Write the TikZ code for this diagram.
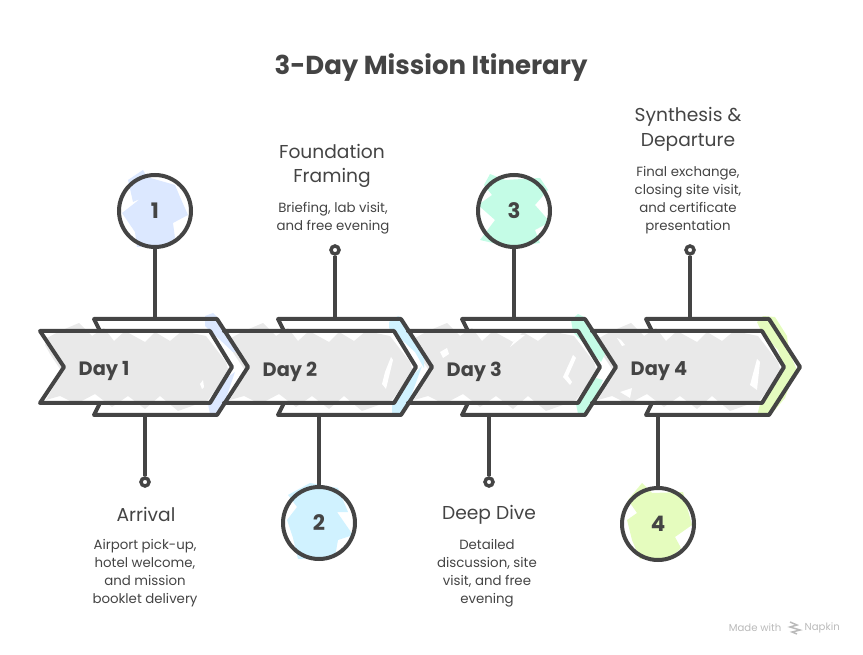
\documentclass[tikz,border=0pt]{standalone}
\usepackage{fontspec}
\setmainfont{Poppins}
\definecolor{ink}{HTML}{444444}
\definecolor{wash}{HTML}{E9E9E9}
\definecolor{dayblue}{HTML}{DCE8FF}
\definecolor{daysky}{HTML}{D0F2FF}
\definecolor{daymint}{HTML}{C4FCE6}
\definecolor{daylime}{HTML}{E5FCBE}
\tikzset{
  sketch/.style={draw=ink,line width=3pt,line join=round,line cap=round},
  stem/.style={draw=ink,line width=2.6pt},
  numdot/.style={circle,draw=ink,line width=3pt,minimum size=72*.75pt,inner sep=0pt,text=ink,font=\fontsize{16}{16}\selectfont\bfseries},
  pindot/.style={circle,draw=ink,fill=white,line width=2.6pt,minimum size=6pt,inner sep=0pt},
  headtext/.style={align=center,text=ink,font=\fontsize{14}{18.4}\selectfont},
  desctext/.style={align=center,text=ink,font=\fontsize{10}{13.5}\selectfont},
  daytext/.style={anchor=west,text=ink,font=\fontsize{14.5}{14.5}\selectfont\bfseries},
  washfill/.pic={
    \fill[wash] (47,338)--(60,331)--(79,323)--(92,336)--(104,328)--(114,341)--(125,331)--(145,342)--(155,332)--(170,341)--(182,331)--(206,336)--(226,362)--(229,372)--(208,400)--(192,406)--(178,411)--(160,396)--(145,409)--(128,396)--(112,407)--(95,394)--(76,404)--(60,396)--(46,400)--(62,372)--(50,354)--(45,345)--cycle;
  },
}
\begin{document}
\begin{tikzpicture}[x=.75pt,y=-.75pt]
\useasboundingbox (0,0) rectangle (863,655);
% title
\node[text=ink,font=\fontsize{19.5}{19.5}\selectfont\bfseries] (title) at (431,68) {3-Day Mission Itinerary};
% grey washes
\pic at (0,0) {washfill};
\pic at (184,0) {washfill};
\pic at (368,0) {washfill};
\pic at (552,0) {washfill};
\fill[white] (200,384)--(203,380)--(204,387)--(202,389)--cycle;
\fill[white] (391,357)--(385,372)--(382,384)--(386,389)--(393,360)--cycle;
\fill[white] (573,355)--(563,377)--(570,385)--(572,382)--(568,376)--(576,358)--cycle;
\fill[white] (440,352)--(447,348)--(449,354)--(443,358)--cycle;
\fill[white] (510,347)--(518,335)--(525,335)--cycle;
\fill[white] (617,338)--(621,340)--(625,345)--(622,346)--cycle;
\fill[white] (757,359)--(750,385)--(757,390)--(760,362)--cycle;
\fill[white] (620,392)--(632,388)--(630,398)--cycle;
% colour bands
\fill[dayblue] (205,316)--(213,313)--(218,318)--(240,352)--(233,352)--(205,326)--cycle;
\fill[dayblue] (208,404)--(226,378)--(235,372)--(222,410)--(217,416)--(210,414)--cycle;
\fill[daysky] (389,322)--(398,316)--(402,318)--(424,352)--(424,368)--(415,352)--(389,328)--cycle;
\fill[daysky] (392,404)--(412,376)--(422,366)--(406,410)--(401,416)--(392,417)--cycle;
\fill[daymint] (571,320)--(578,314)--(586,318)--(606,352)--(601,362)--(573,332)--cycle;
\fill[daymint] (576,404)--(596,378)--(603,380)--(590,410)--(585,416)--(578,414)--cycle;
\fill[daylime] (757,322)--(763,316)--(775,317)--(787,336)--(789,352)--(797,370)--(790,384)--(785,398)--(769,417)--(757,416)--(760,404)--(784,368)--(778,350)--(762,333)--cycle;
% back outlines
\draw[sketch] (100,331)--(94,319)--(217,319)--(248,367)--(217,415)--(94,415)--(100,403);
\draw[sketch] (284,331)--(278,319)--(401,319)--(432,367)--(401,415)--(278,415)--(284,403);
\draw[sketch] (468,331)--(462,319)--(585,319)--(616,367)--(585,415)--(462,415)--(468,403);
\draw[sketch] (652,331)--(646,319)--(769,319)--(800,367)--(769,415)--(646,415)--(652,403);
% front outlines
\draw[sketch] (40,331)--(210,331)--(232,367)--(210,403)--(40,403)--(64,367)--cycle;
\draw[sketch] (224,331)--(394,331)--(416,367)--(394,403)--(224,403);
\draw[sketch] (408,331)--(578,331)--(600,367)--(578,403)--(408,403);
\draw[sketch] (592,331)--(762,331)--(784,367)--(762,403)--(592,403);
\node[daytext] (dayone) at (74,371.5) {Day 1};
\node[daytext] (daytwo) at (258,371.5) {Day 2};
\node[daytext] (daythree) at (442,371.5) {Day 3};
\node[daytext] (dayfour) at (626,371.5) {Day 4};
% numbered circles
\fill[dayblue] (128,180)--(143,170)--(147,177)--(175,185)--(180,197)--(188,215)--(173,223)--(175,238)--(167,245)--(137,247)--(135,232)--(122,213)--(140,199)--(133,202)--cycle;
\fill[daysky] (288,495)--(310,483)--(338,488)--(348,512)--(337,512)--(353,535)--(338,540)--(335,557)--(298,559)--(293,538)--(287,520)--(297,507)--cycle;
\fill[daymint] (484,185)--(490,174)--(505,180)--(540,178)--(548,190)--(535,205)--(550,222)--(535,230)--(540,243)--(510,247)--(480,240)--(495,220)--(478,205)--(492,195)--cycle;
\fill[daylime] (628,500)--(642,483)--(652,493)--(683,492)--(692,525)--(675,537)--(681,548)--(670,558)--(640,559)--(632,540)--(627,520)--(637,513)--cycle;
\node[numdot] (one) at (155,211) {1};
\node[numdot] (two) at (319,523) {2};
\node[numdot] (three) at (514,211) {3};
\node[numdot] (four) at (658,524) {4};
\coordinate (oneroot) at (155,319);
\coordinate (tworoot) at (319,415);
\coordinate (threeroot) at (514,319);
\coordinate (fourroot) at (658,415);
\draw[stem] (one)--(oneroot);
\draw[stem] (two)--(tworoot);
\draw[stem] (three)--(threeroot);
\draw[stem] (four)--(fourroot);
% pins
\node[pindot] (pinone) at (145,482) {};
\node[pindot] (pintwo) at (335,250) {};
\node[pindot] (pinthree) at (489,482) {};
\node[pindot] (pinfour) at (690,250) {};
\coordinate (pinoneroot) at (145,415);
\coordinate (pintworoot) at (335,319);
\coordinate (pinthreeroot) at (489,415);
\coordinate (pinfourroot) at (690,319);
\draw[stem] (pinone)--(pinoneroot);
\draw[stem] (pintwo)--(pintworoot);
\draw[stem] (pinthree)--(pinthreeroot);
\draw[stem] (pinfour)--(pinfourroot);
% labels
\node[headtext] (headone) at (146,514) {Arrival};
\node[desctext] (descone) at (145,573) {Airport pick-up,\\hotel welcome,\\and mission\\booklet delivery};
\node[headtext] (headtwo) at (332,166) {Foundation\\Framing};
\node[desctext] (desctwo) at (333,218) {Briefing, lab visit,\\and free evening};
\node[headtext] (headthree) at (489,515) {Deep Dive};
\node[desctext] (descthree) at (487,573) {Detailed\\discussion, site\\visit, and free\\evening};
\node[headtext] (headfour) at (688,129.5) {Synthesis \&\\Departure};
\node[desctext] (descfour) at (688,200) {Final exchange,\\closing site visit,\\and certificate\\presentation};
% footer
\node[anchor=east,text=black!27,font=\fontsize{7.6}{7.6}\selectfont] (madewith) at (786,628) {Made with};
\node[anchor=west,text=black!27,font=\fontsize{7.6}{7.6}\selectfont] (napkin) at (800,628) {Napkin};
\draw[black!27,line width=1.1pt] (790,622)--(797,625)--(790,627)--(800,630)--(792,632)--(797,634);
\end{tikzpicture}
\end{document}
